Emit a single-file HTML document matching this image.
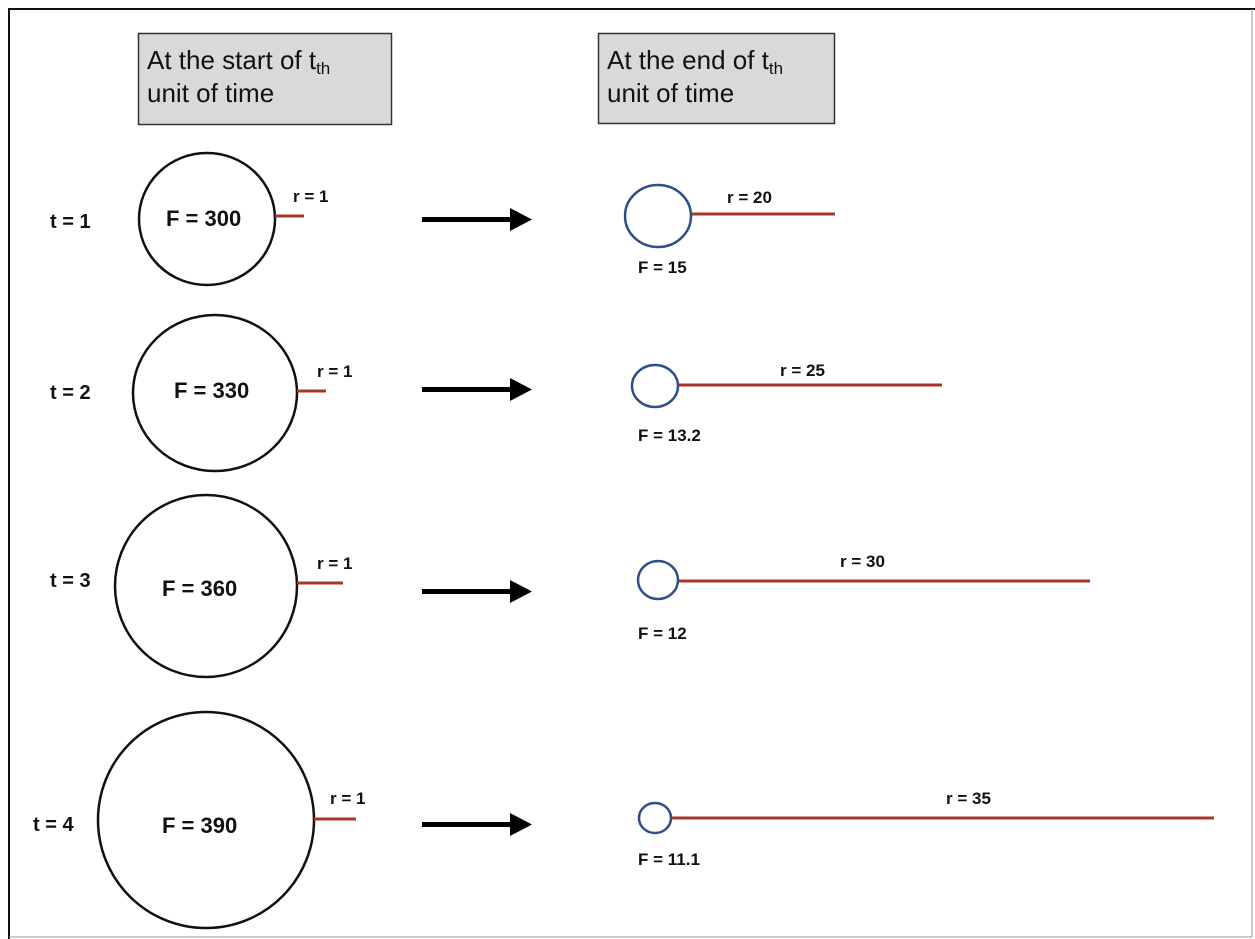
<!DOCTYPE html>
<html><head><meta charset="utf-8"><style>
body{margin:0;background:#fff;}
svg{display:block;font-family:"Liberation Sans",Arial,sans-serif;}
.b{font-weight:bold;fill:#111;}
</style></head><body>
<svg width="1255" height="939" viewBox="0 0 1255 939" xmlns="http://www.w3.org/2000/svg">
<rect width="1255" height="939" fill="#fff"/>
<line x1="9" y1="8" x2="9" y2="939" stroke="#111" stroke-width="2"/>
<line x1="8" y1="9" x2="1255" y2="9" stroke="#111" stroke-width="2"/>
<line x1="1252" y1="9" x2="1252" y2="937" stroke="#999" stroke-width="1"/>
<line x1="9" y1="937" x2="1252" y2="937" stroke="#999" stroke-width="1"/>

<rect x="138.5" y="33.5" width="253" height="91" fill="#d9d9d9" stroke="#333" stroke-width="1.5"/>
<text x="147" y="69" font-size="26" fill="#111">At the start of t<tspan font-size="17" dy="5">th</tspan></text>
<text x="147" y="102" font-size="26" fill="#111">unit of time</text>
<rect x="598.5" y="33.5" width="236" height="90" fill="#d9d9d9" stroke="#333" stroke-width="1.5"/>
<text x="607" y="69" font-size="26" fill="#111">At the end of t<tspan font-size="17" dy="5">th</tspan></text>
<text x="607" y="102" font-size="26" fill="#111">unit of time</text>

<g fill="none" stroke="#111" stroke-width="2.5">
<ellipse cx="207" cy="219" rx="68" ry="66"/>
<ellipse cx="215" cy="393" rx="82" ry="78"/>
<ellipse cx="206" cy="586" rx="91" ry="91"/>
<ellipse cx="206" cy="820" rx="108" ry="108"/>
</g>
<g stroke="#a8372a" stroke-width="3">
<line x1="275" y1="216" x2="304" y2="216"/>
<line x1="297" y1="391" x2="326" y2="391"/>
<line x1="297" y1="583" x2="343" y2="583"/>
<line x1="314" y1="819" x2="356" y2="819"/>
<line x1="691" y1="214" x2="835" y2="214"/>
<line x1="678" y1="385" x2="942" y2="385"/>
<line x1="678" y1="581" x2="1090" y2="581"/>
<line x1="671" y1="818" x2="1214" y2="818"/>
</g>
<g fill="none" stroke="#2f4f86" stroke-width="2.5">
<ellipse cx="658" cy="216" rx="33" ry="31"/>
<ellipse cx="655" cy="386" rx="23" ry="21"/>
<ellipse cx="658" cy="580" rx="20" ry="19"/>
<ellipse cx="655" cy="818" rx="16" ry="15"/>
</g>
<g fill="#000">
<rect x="422" y="217" width="92" height="5"/><polygon points="510,208 532,219.5 510,231"/>
<rect x="422" y="387" width="92" height="5"/><polygon points="510,378 532,389.5 510,401"/>
<rect x="422" y="589" width="92" height="5"/><polygon points="510,580 532,591.5 510,603"/>
<rect x="422" y="822" width="92" height="5"/><polygon points="510,813 532,824.5 510,836"/>
</g>

<g class="b" font-size="20">
<text x="50" y="228">t = 1</text>
<text x="50" y="399">t = 2</text>
<text x="50" y="587">t = 3</text>
<text x="33" y="831">t = 4</text>
</g>
<g class="b" font-size="22">
<text x="166" y="226">F = 300</text>
<text x="174" y="398">F = 330</text>
<text x="162" y="596">F = 360</text>
<text x="162" y="833">F = 390</text>
</g>
<g class="b" font-size="17">
<text x="293" y="202">r = 1</text>
<text x="317" y="377">r = 1</text>
<text x="317" y="569">r = 1</text>
<text x="330" y="804">r = 1</text>
<text x="727" y="203">r = 20</text>
<text x="780" y="376">r = 25</text>
<text x="840" y="567">r = 30</text>
<text x="946" y="804">r = 35</text>
<text x="638" y="273">F = 15</text>
<text x="638" y="441">F = 13.2</text>
<text x="638" y="639">F = 12</text>
<text x="638" y="865">F = 11.1</text>
</g>
</svg>
</body></html>
